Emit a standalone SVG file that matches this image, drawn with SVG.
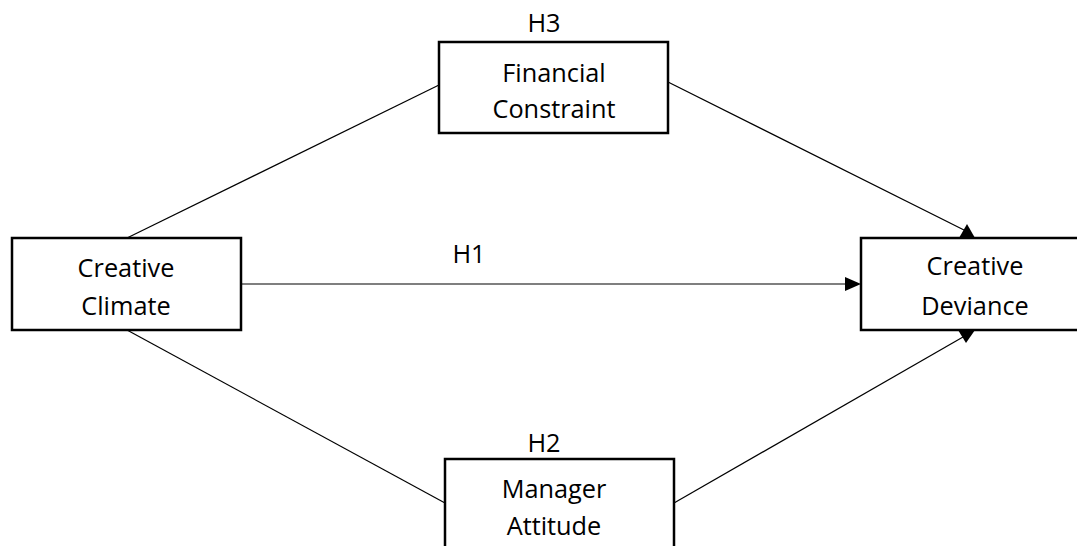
<svg xmlns="http://www.w3.org/2000/svg" width="1077" height="546" viewBox="0 0 1077 546">
<style>
.box{fill:#fff;stroke:#000;stroke-width:2.5}
.t{font-family:"Open Sans","Liberation Sans",sans-serif;font-size:25.3px;fill:#000;text-anchor:middle}
.c{stroke:#000;stroke-width:1.2;fill:none}
.ah{fill:#000;stroke:none}
</style>
<rect width="1077" height="546" fill="#fff"/>
<g id="connectors">
<line class="c" x1="127" y1="238" x2="439" y2="85"/>
<line class="c" x1="668" y1="82" x2="964" y2="230"/>
<polygon class="ah" points="967,224 975,238 959,238"/>
<line class="c" x1="241" y1="284" x2="847" y2="284"/>
<polygon class="ah" points="861,284 845,277 845,291"/>
<line class="c" x1="127" y1="330" x2="445" y2="503"/>
<line class="c" x1="674" y1="503" x2="963" y2="337"/>
<polygon class="ah" points="966,343 975,330 958,330"/>
<text class="t" x="469" y="263">H1</text>
</g>
<g id="financial-constraint">
<text class="t" x="544" y="32">H3</text>
<rect class="box" x="439" y="42" width="229" height="91"/>
<text class="t" x="554" y="82">Financial</text>
<text class="t" x="554" y="118">Constraint</text>
</g>
<g id="creative-climate">
<rect class="box" x="12" y="238" width="229" height="92"/>
<text class="t" x="126" y="277">Creative</text>
<text class="t" x="126" y="315">Climate</text>
</g>
<g id="creative-deviance">
<rect class="box" x="861" y="238" width="225" height="92"/>
<text class="t" x="975" y="275">Creative</text>
<text class="t" x="975" y="315">Deviance</text>
</g>
<g id="manager-attitude">
<text class="t" x="544" y="452">H2</text>
<rect class="box" x="445" y="459" width="229" height="100"/>
<text class="t" x="554" y="498">Manager</text>
<text class="t" x="554" y="535">Attitude</text>
</g>
</svg>
